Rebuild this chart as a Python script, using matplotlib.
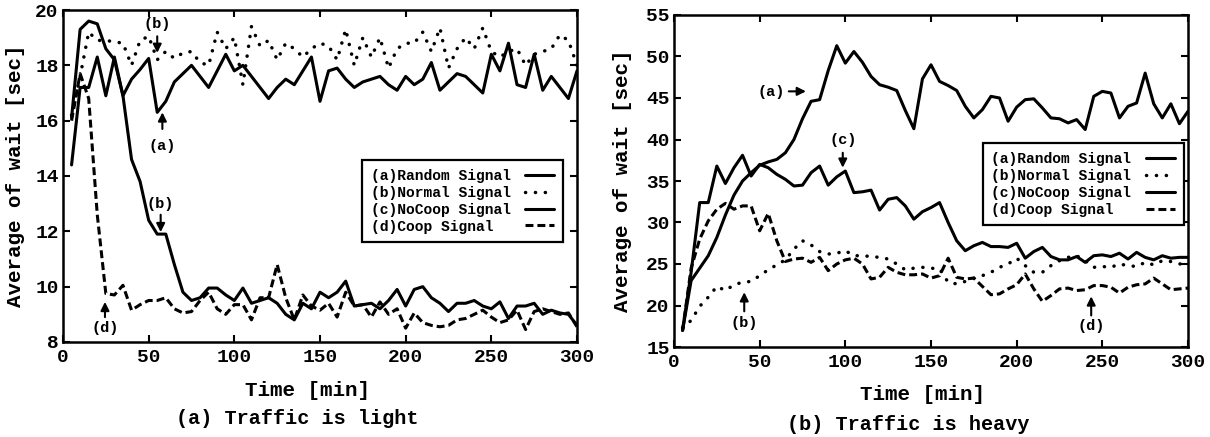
import matplotlib
matplotlib.use("Agg")
import matplotlib.pyplot as plt

# ---------------- data ----------------
time_min = [5, 10, 15, 20, 25, 30, 35, 40, 45, 50, 55, 60, 65, 70, 75, 80, 85, 90, 95, 100,
            105, 110, 115, 120, 125, 130, 135, 140, 145, 150, 155, 160, 165, 170, 175, 180, 185, 190, 195, 200,
            205, 210, 215, 220, 225, 230, 235, 240, 245, 250, 255, 260, 265, 270, 275, 280, 285, 290, 295, 300]

# (a) Traffic is light
light_random = [14.4, 17.2, 17.2, 18.3, 16.9, 18.3, 16.9, 17.5, 17.85, 18.25, 16.3, 16.7, 17.4, 17.7, 18.0, 17.6, 17.2, 17.8, 18.4, 17.8,
                18.0, 17.6, 17.2, 16.8, 17.2, 17.5, 17.3, 17.8, 18.3, 16.7, 17.8, 17.9, 17.5, 17.2, 17.4, 17.5, 17.6, 17.3, 17.1, 17.6,
                17.3, 17.5, 18.1, 17.1, 17.4, 17.7, 17.6, 17.3, 17.0, 18.4, 17.8, 18.8, 17.3, 17.2, 18.4, 17.1, 17.6, 17.2, 16.8, 17.8]
light_normal = [16.2, 17.6, 19.2, 18.9, 18.9, 18.85, 18.8, 18.0, 18.9, 19.05, 18.2, 18.5, 18.25, 18.45, 18.5, 18.1, 18.0, 19.2, 18.6, 19.0,
                17.3, 19.4, 18.7, 18.9, 18.2, 18.8, 18.6, 18.3, 18.6, 18.8, 18.7, 18.2, 19.3, 18.0, 19.0, 18.3, 19.0, 17.9, 18.6, 18.8,
                18.8, 19.2, 18.5, 19.35, 17.9, 18.6, 19.0, 18.6, 19.35, 18.5, 18.3, 18.5, 18.6, 18.0, 18.4, 18.5, 18.6, 19.1, 18.9, 18.0]
light_nocoop = [16.1, 19.3, 19.6, 19.5, 18.6, 18.2, 16.9, 14.6, 13.8, 12.4, 11.9, 11.9, 10.8, 9.8, 9.5, 9.6, 9.95, 9.95, 9.7, 9.5,
                9.95, 9.4, 9.5, 9.6, 9.4, 9.0, 8.8, 9.4, 9.2, 9.8, 9.6, 9.8, 10.2, 9.3, 9.35, 9.4, 9.2, 9.5, 9.9, 9.3,
                9.9, 10.0, 9.6, 9.4, 9.1, 9.4, 9.4, 9.5, 9.3, 9.2, 9.45, 8.85, 9.3, 9.3, 9.4, 9.0, 9.15, 9.05, 9.0, 8.6]
light_coop = [16.0, 17.7, 16.8, 12.6, 9.75, 9.7, 10.05, 9.15, 9.35, 9.5, 9.5, 9.6, 9.2, 9.05, 9.1, 9.5, 9.8, 9.2, 9.0, 9.35,
              9.35, 8.8, 9.6, 9.6, 10.8, 9.6, 8.8, 9.7, 9.3, 9.15, 9.4, 8.9, 9.8, 9.3, 9.35, 8.9, 9.45, 9.0, 9.2, 8.5,
              9.05, 8.7, 8.6, 8.55, 8.6, 8.8, 8.85, 9.0, 9.15, 8.9, 8.7, 8.8, 9.15, 8.45, 9.1, 9.2, 9.1, 9.0, 9.05, 8.55]

# (b) Traffic is heavy
heavy_random = [17.0, 23.0, 24.5, 26.0, 28.2, 30.9, 33.3, 35.0, 36.0, 36.9, 37.3, 37.6, 38.4, 40.0, 42.5, 44.6, 44.8, 48.3, 51.3, 49.2,
                50.6, 49.3, 47.6, 46.6, 46.3, 45.9, 43.5, 41.3, 47.3, 49.0, 47.0, 46.5, 45.9, 44.0, 42.6, 43.6, 45.2, 45.0, 42.2, 43.9,
                44.8, 44.9, 43.8, 42.6, 42.5, 42.0, 42.4, 41.2, 45.2, 45.8, 45.6, 42.6, 44.0, 44.4, 48.0, 44.3, 42.6, 44.3, 41.9, 43.4]
heavy_normal = [17.3, 18.2, 19.9, 21.0, 22.3, 21.8, 22.5, 22.8, 22.9, 23.6, 24.3, 24.9, 25.5, 26.8, 27.8, 27.3, 26.5, 26.2, 26.3, 26.6,
                26.0, 26.0, 25.9, 25.8, 25.6, 25.0, 24.3, 24.5, 24.6, 24.5, 24.4, 22.8, 22.6, 22.9, 23.3, 23.6, 24.0, 24.6, 25.0, 25.7,
                24.8, 24.0, 24.0, 24.8, 25.4, 25.8, 26.0, 25.4, 24.6, 24.7, 24.6, 25.0, 24.8, 24.7, 25.2, 24.9, 25.4, 25.3, 25.0, 25.1]
heavy_nocoop = [17.0, 24.0, 32.4, 32.4, 36.8, 34.7, 36.6, 38.1, 35.6, 37.0, 36.6, 35.8, 35.2, 34.4, 34.5, 36.0, 36.8, 34.5, 35.5, 36.2,
                33.6, 33.7, 33.9, 31.5, 32.8, 33.0, 32.0, 30.4, 31.3, 31.8, 32.4, 30.0, 27.8, 26.6, 27.2, 27.6, 27.1, 27.1, 27.0, 27.5,
                25.7, 26.5, 27.0, 25.9, 25.5, 25.5, 25.9, 25.2, 26.0, 26.1, 25.9, 26.3, 25.6, 26.4, 25.8, 25.5, 26.0, 25.7, 25.8, 25.8]
heavy_coop = [17.0, 24.5, 28.0, 30.2, 31.6, 32.3, 31.6, 32.0, 32.0, 29.0, 31.1, 27.8, 25.3, 25.6, 25.7, 25.2, 25.8, 24.2, 25.0, 25.5,
              25.7, 25.0, 23.2, 23.4, 24.6, 24.0, 23.7, 23.7, 23.8, 23.3, 23.6, 25.7, 23.4, 23.2, 23.3, 22.3, 21.3, 21.4, 22.0, 22.5,
              23.8, 22.0, 20.5, 21.2, 22.0, 22.1, 21.8, 21.9, 22.4, 22.4, 22.2, 21.5, 22.2, 22.5, 22.6, 23.3, 22.6, 21.9, 22.0, 22.1]

legend_labels = ["(a)Random Signal", "(b)Normal Signal", "(c)NoCoop Signal", "(d)Coop Signal  "]
x_ticks = [0, 50, 100, 150, 200, 250, 300]
light_yticks = [8, 10, 12, 14, 16, 18, 20]
heavy_yticks = [15, 20, 25, 30, 35, 40, 45, 50, 55]

# ---------------- style ----------------
MONO = ["Liberation Mono", "DejaVu Sans Mono"]
plt.rcParams["font.family"] = MONO
plt.rcParams["font.weight"] = "bold"

solid = dict(color="black", lw=2.2, linestyle="-", solid_capstyle="round", solid_joinstyle="round")
dotted = dict(color="black", lw=2.5, linestyle=(0, (0.05, 2.8)), dash_capstyle="round")
dashed = dict(color="black", lw=2.2, linestyle=(0, (2.6, 1.3)))

fig = plt.figure(figsize=(12.1, 4.37), dpi=100)
ax1 = fig.add_axes([63 / 1210, (437 - 342) / 437, 514 / 1210, 332 / 437])
ax2 = fig.add_axes([674 / 1210, (437 - 347) / 437, 514 / 1210, 332 / 437])


def draw(ax, series, ylim, yticks):
    styles = [solid, dotted, solid, dashed]
    for vals, st, lab in zip(series, styles, legend_labels):
        ax.plot(time_min, vals, label=lab, **st)
    ax.set_xlim(0, 300)
    ax.set_ylim(*ylim)
    ax.set_xticks(x_ticks)
    ax.set_yticks(yticks)
    ax.tick_params(direction="in", length=5, width=1.5, top=True, right=True,
                   labelsize=14, pad=5)
    for lab in ax.get_xticklabels() + ax.get_yticklabels():
        lab.set_fontweight("bold")
    ax.tick_params(axis="y", pad=3)
    for sp in ax.spines.values():
        sp.set_linewidth(1.8)


draw(ax1, [light_random, light_normal, light_nocoop, light_coop], (8, 20), light_yticks)
draw(ax2, [heavy_random, heavy_normal, heavy_nocoop, heavy_coop], (15, 55), heavy_yticks)

for ax, anchor in ((ax1, (0.973, 0.548)), (ax2, (0.992, 0.614))):
    leg = ax.legend(loc="upper right", bbox_to_anchor=anchor, markerfirst=False,
                    prop=dict(family=MONO, weight="bold", size=10.5),
                    handlelength=2.0, handletextpad=1.0, labelspacing=0.2,
                    borderpad=0.6, borderaxespad=0.0, fancybox=False, framealpha=1,
                    edgecolor="black")
    leg.get_frame().set_linewidth(1.6)

arrow = dict(arrowstyle="-|>,head_length=0.5,head_width=0.25", color="black", lw=1.5,
             shrinkA=0, shrinkB=0)
ann_font = dict(fontsize=11, fontweight="bold", ha="center", va="center")

# left annotations
ax1.annotate("", xy=(55, 18.45), xytext=(55, 19.05), arrowprops=arrow)
ax1.text(55, 19.5, "(b)", **ann_font)
ax1.annotate("", xy=(58, 16.3), xytext=(58, 15.7), arrowprops=arrow)
ax1.text(58, 15.1, "(a)", **ann_font)
ax1.annotate("", xy=(57, 11.97), xytext=(57, 12.6), arrowprops=arrow)
ax1.text(57, 13.0, "(b)", **ann_font)
ax1.annotate("", xy=(24.5, 9.45), xytext=(24.5, 8.9), arrowprops=arrow)
ax1.text(24.5, 8.5, "(d)", **ann_font)

# right annotations
ax2.annotate("", xy=(77, 45.8), xytext=(67, 45.8), arrowprops=arrow)
ax2.text(56.5, 45.7, "(a)", **ann_font)
ax2.annotate("", xy=(98.5, 36.6), xytext=(98.5, 38.4), arrowprops=arrow)
ax2.text(98.5, 39.9, "(c)", **ann_font)
ax2.annotate("", xy=(41, 21.6), xytext=(41, 19.3), arrowprops=arrow)
ax2.text(41, 17.9, "(b)", **ann_font)
ax2.annotate("", xy=(243.5, 21.1), xytext=(243.5, 18.8), arrowprops=arrow)
ax2.text(243.5, 17.5, "(d)", **ann_font)

# axis labels and captions (figure pixel positions converted to fractions)
W, H = 1210, 437
fig.text(308 / W, 1 - 390 / H, "Time [min]", fontsize=15, fontweight="bold", ha="center", va="center")
fig.text(297 / W, 1 - 418 / H, "(a) Traffic is light", fontsize=14.5, fontweight="bold", ha="center", va="center")
fig.text(923 / W, 1 - 395 / H, "Time [min]", fontsize=15, fontweight="bold", ha="center", va="center")
fig.text(908 / W, 1 - 425 / H, "(b) Traffic is heavy", fontsize=14.5, fontweight="bold", ha="center", va="center")
fig.text(16 / W, 1 - 176 / H, "Average of wait [sec]", fontsize=15, fontweight="bold",
         rotation=90, ha="center", va="center")
fig.text(622 / W, 1 - 181 / H, "Average of wait [sec]", fontsize=15, fontweight="bold",
         rotation=90, ha="center", va="center")

fig.savefig("out.png", dpi=100, facecolor="white")
